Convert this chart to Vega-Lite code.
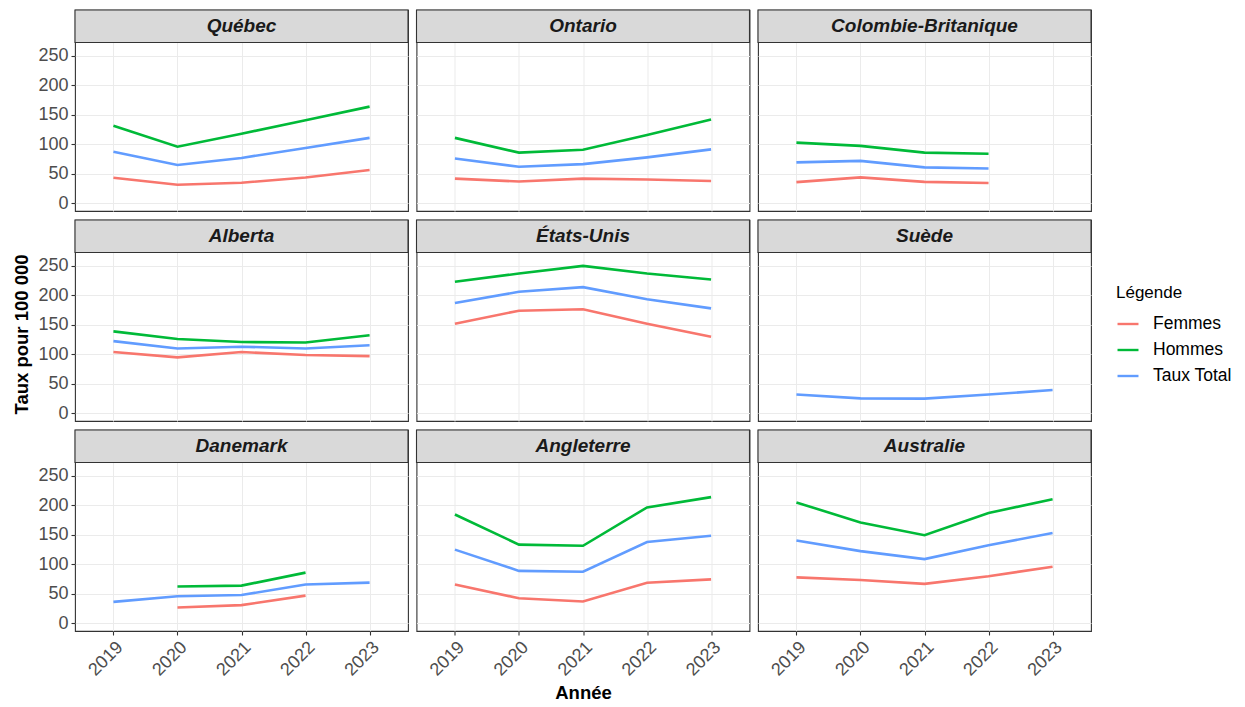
{
  "$schema": "https://vega.github.io/schema/vega-lite/v6.json",
  "padding": {"left": 12, "top": 8, "right": 5, "bottom": 5},
  "background": "white",
  "data": {"values": [
    {"region": "Québec", "annee": 2019, "serie": "Femmes", "taux": 43.5},
    {"region": "Québec", "annee": 2020, "serie": "Femmes", "taux": 31.5},
    {"region": "Québec", "annee": 2021, "serie": "Femmes", "taux": 35},
    {"region": "Québec", "annee": 2022, "serie": "Femmes", "taux": 44},
    {"region": "Québec", "annee": 2023, "serie": "Femmes", "taux": 56.5},
    {"region": "Québec", "annee": 2019, "serie": "Hommes", "taux": 131.5},
    {"region": "Québec", "annee": 2020, "serie": "Hommes", "taux": 96},
    {"region": "Québec", "annee": 2021, "serie": "Hommes", "taux": 118},
    {"region": "Québec", "annee": 2022, "serie": "Hommes", "taux": 141},
    {"region": "Québec", "annee": 2023, "serie": "Hommes", "taux": 164},
    {"region": "Québec", "annee": 2019, "serie": "Taux Total", "taux": 87.5},
    {"region": "Québec", "annee": 2020, "serie": "Taux Total", "taux": 65},
    {"region": "Québec", "annee": 2021, "serie": "Taux Total", "taux": 77},
    {"region": "Québec", "annee": 2022, "serie": "Taux Total", "taux": 94},
    {"region": "Québec", "annee": 2023, "serie": "Taux Total", "taux": 111},
    {"region": "Ontario", "annee": 2019, "serie": "Femmes", "taux": 42},
    {"region": "Ontario", "annee": 2020, "serie": "Femmes", "taux": 37},
    {"region": "Ontario", "annee": 2021, "serie": "Femmes", "taux": 42},
    {"region": "Ontario", "annee": 2022, "serie": "Femmes", "taux": 40.5},
    {"region": "Ontario", "annee": 2023, "serie": "Femmes", "taux": 38},
    {"region": "Ontario", "annee": 2019, "serie": "Hommes", "taux": 111},
    {"region": "Ontario", "annee": 2020, "serie": "Hommes", "taux": 86},
    {"region": "Ontario", "annee": 2021, "serie": "Hommes", "taux": 91},
    {"region": "Ontario", "annee": 2022, "serie": "Hommes", "taux": 116},
    {"region": "Ontario", "annee": 2023, "serie": "Hommes", "taux": 142},
    {"region": "Ontario", "annee": 2019, "serie": "Taux Total", "taux": 76},
    {"region": "Ontario", "annee": 2020, "serie": "Taux Total", "taux": 62},
    {"region": "Ontario", "annee": 2021, "serie": "Taux Total", "taux": 66.5},
    {"region": "Ontario", "annee": 2022, "serie": "Taux Total", "taux": 78},
    {"region": "Ontario", "annee": 2023, "serie": "Taux Total", "taux": 91.5},
    {"region": "Colombie-Britanique", "annee": 2019, "serie": "Femmes", "taux": 36},
    {"region": "Colombie-Britanique", "annee": 2020, "serie": "Femmes", "taux": 44},
    {"region": "Colombie-Britanique", "annee": 2021, "serie": "Femmes", "taux": 36.5},
    {"region": "Colombie-Britanique", "annee": 2022, "serie": "Femmes", "taux": 34.5},
    {"region": "Colombie-Britanique", "annee": 2019, "serie": "Hommes", "taux": 103},
    {"region": "Colombie-Britanique", "annee": 2020, "serie": "Hommes", "taux": 97.5},
    {"region": "Colombie-Britanique", "annee": 2021, "serie": "Hommes", "taux": 86},
    {"region": "Colombie-Britanique", "annee": 2022, "serie": "Hommes", "taux": 84},
    {"region": "Colombie-Britanique", "annee": 2019, "serie": "Taux Total", "taux": 69.5},
    {"region": "Colombie-Britanique", "annee": 2020, "serie": "Taux Total", "taux": 72},
    {"region": "Colombie-Britanique", "annee": 2021, "serie": "Taux Total", "taux": 61},
    {"region": "Colombie-Britanique", "annee": 2022, "serie": "Taux Total", "taux": 59},
    {"region": "Alberta", "annee": 2019, "serie": "Femmes", "taux": 104},
    {"region": "Alberta", "annee": 2020, "serie": "Femmes", "taux": 95},
    {"region": "Alberta", "annee": 2021, "serie": "Femmes", "taux": 104},
    {"region": "Alberta", "annee": 2022, "serie": "Femmes", "taux": 99},
    {"region": "Alberta", "annee": 2023, "serie": "Femmes", "taux": 97},
    {"region": "Alberta", "annee": 2019, "serie": "Hommes", "taux": 139},
    {"region": "Alberta", "annee": 2020, "serie": "Hommes", "taux": 126},
    {"region": "Alberta", "annee": 2021, "serie": "Hommes", "taux": 121},
    {"region": "Alberta", "annee": 2022, "serie": "Hommes", "taux": 120},
    {"region": "Alberta", "annee": 2023, "serie": "Hommes", "taux": 132.5},
    {"region": "Alberta", "annee": 2019, "serie": "Taux Total", "taux": 122.5},
    {"region": "Alberta", "annee": 2020, "serie": "Taux Total", "taux": 110},
    {"region": "Alberta", "annee": 2021, "serie": "Taux Total", "taux": 113},
    {"region": "Alberta", "annee": 2022, "serie": "Taux Total", "taux": 110},
    {"region": "Alberta", "annee": 2023, "serie": "Taux Total", "taux": 115.5},
    {"region": "États-Unis", "annee": 2019, "serie": "Femmes", "taux": 152},
    {"region": "États-Unis", "annee": 2020, "serie": "Femmes", "taux": 174},
    {"region": "États-Unis", "annee": 2021, "serie": "Femmes", "taux": 176.5},
    {"region": "États-Unis", "annee": 2022, "serie": "Femmes", "taux": 152},
    {"region": "États-Unis", "annee": 2023, "serie": "Femmes", "taux": 130},
    {"region": "États-Unis", "annee": 2019, "serie": "Hommes", "taux": 223},
    {"region": "États-Unis", "annee": 2020, "serie": "Hommes", "taux": 237},
    {"region": "États-Unis", "annee": 2021, "serie": "Hommes", "taux": 250},
    {"region": "États-Unis", "annee": 2022, "serie": "Hommes", "taux": 237},
    {"region": "États-Unis", "annee": 2023, "serie": "Hommes", "taux": 227},
    {"region": "États-Unis", "annee": 2019, "serie": "Taux Total", "taux": 187},
    {"region": "États-Unis", "annee": 2020, "serie": "Taux Total", "taux": 206},
    {"region": "États-Unis", "annee": 2021, "serie": "Taux Total", "taux": 214},
    {"region": "États-Unis", "annee": 2022, "serie": "Taux Total", "taux": 193.5},
    {"region": "États-Unis", "annee": 2023, "serie": "Taux Total", "taux": 178},
    {"region": "Suède", "annee": 2019, "serie": "Taux Total", "taux": 32},
    {"region": "Suède", "annee": 2020, "serie": "Taux Total", "taux": 25.5},
    {"region": "Suède", "annee": 2021, "serie": "Taux Total", "taux": 25},
    {"region": "Suède", "annee": 2022, "serie": "Taux Total", "taux": 32},
    {"region": "Suède", "annee": 2023, "serie": "Taux Total", "taux": 39.5},
    {"region": "Danemark", "annee": 2020, "serie": "Femmes", "taux": 27},
    {"region": "Danemark", "annee": 2021, "serie": "Femmes", "taux": 31},
    {"region": "Danemark", "annee": 2022, "serie": "Femmes", "taux": 47},
    {"region": "Danemark", "annee": 2020, "serie": "Hommes", "taux": 62.5},
    {"region": "Danemark", "annee": 2021, "serie": "Hommes", "taux": 64},
    {"region": "Danemark", "annee": 2022, "serie": "Hommes", "taux": 86},
    {"region": "Danemark", "annee": 2019, "serie": "Taux Total", "taux": 36.5},
    {"region": "Danemark", "annee": 2020, "serie": "Taux Total", "taux": 46},
    {"region": "Danemark", "annee": 2021, "serie": "Taux Total", "taux": 48},
    {"region": "Danemark", "annee": 2022, "serie": "Taux Total", "taux": 66},
    {"region": "Danemark", "annee": 2023, "serie": "Taux Total", "taux": 69},
    {"region": "Angleterre", "annee": 2019, "serie": "Femmes", "taux": 66},
    {"region": "Angleterre", "annee": 2020, "serie": "Femmes", "taux": 42.5},
    {"region": "Angleterre", "annee": 2021, "serie": "Femmes", "taux": 37},
    {"region": "Angleterre", "annee": 2022, "serie": "Femmes", "taux": 69},
    {"region": "Angleterre", "annee": 2023, "serie": "Femmes", "taux": 74.5},
    {"region": "Angleterre", "annee": 2019, "serie": "Hommes", "taux": 184.5},
    {"region": "Angleterre", "annee": 2020, "serie": "Hommes", "taux": 133.5},
    {"region": "Angleterre", "annee": 2021, "serie": "Hommes", "taux": 131.5},
    {"region": "Angleterre", "annee": 2022, "serie": "Hommes", "taux": 196.5},
    {"region": "Angleterre", "annee": 2023, "serie": "Hommes", "taux": 214},
    {"region": "Angleterre", "annee": 2019, "serie": "Taux Total", "taux": 125},
    {"region": "Angleterre", "annee": 2020, "serie": "Taux Total", "taux": 89},
    {"region": "Angleterre", "annee": 2021, "serie": "Taux Total", "taux": 87.5},
    {"region": "Angleterre", "annee": 2022, "serie": "Taux Total", "taux": 138},
    {"region": "Angleterre", "annee": 2023, "serie": "Taux Total", "taux": 148.5},
    {"region": "Australie", "annee": 2019, "serie": "Femmes", "taux": 78},
    {"region": "Australie", "annee": 2020, "serie": "Femmes", "taux": 73.5},
    {"region": "Australie", "annee": 2021, "serie": "Femmes", "taux": 67},
    {"region": "Australie", "annee": 2022, "serie": "Femmes", "taux": 80},
    {"region": "Australie", "annee": 2023, "serie": "Femmes", "taux": 96},
    {"region": "Australie", "annee": 2019, "serie": "Hommes", "taux": 205},
    {"region": "Australie", "annee": 2020, "serie": "Hommes", "taux": 171},
    {"region": "Australie", "annee": 2021, "serie": "Hommes", "taux": 149.5},
    {"region": "Australie", "annee": 2022, "serie": "Hommes", "taux": 187},
    {"region": "Australie", "annee": 2023, "serie": "Hommes", "taux": 210.5},
    {"region": "Australie", "annee": 2019, "serie": "Taux Total", "taux": 140.5},
    {"region": "Australie", "annee": 2020, "serie": "Taux Total", "taux": 122.5},
    {"region": "Australie", "annee": 2021, "serie": "Taux Total", "taux": 109},
    {"region": "Australie", "annee": 2022, "serie": "Taux Total", "taux": 132.5},
    {"region": "Australie", "annee": 2023, "serie": "Taux Total", "taux": 153}
  ]},
  "columns": 3,
  "spacing": {"row": 9, "column": 8.5},
  "bounds": "flush",
  "concat": [
    {
      "width": 333, "height": 201,
      "transform": [{"filter": "datum.region === 'Québec'"}],
      "layer": [
        {"mark": {"type": "line", "strokeWidth": 2.6}, "encoding": {
          "x": {"field": "annee", "type": "ordinal", "scale": {"type": "point", "domain": [2019, 2020, 2021, 2022, 2023], "padding": 0.6}, "axis": {"labels": false, "ticks": false, "title": null}},
          "y": {"field": "taux", "type": "quantitative", "scale": {"domain": [-12.9, 327.7], "nice": false, "zero": false}, "axis": {"values": [0, 25, 50, 75, 100, 125, 150, 175, 200, 225, 250], "labelExpr": "datum.value % 50 === 0 ? datum.label : ''", "tickOpacity": {"condition": {"test": "datum.value % 50 !== 0", "value": 0}, "value": 1}, "gridWidth": {"condition": {"test": "datum.value % 50 !== 0", "value": 0.55}, "value": 1.1}, "title": null}},
          "color": {"field": "serie", "type": "nominal", "scale": {"domain": ["Femmes", "Hommes", "Taux Total"], "range": ["#F8766D", "#00BA38", "#619CFF"]}, "legend": {"title": "Légende", "orient": "none", "legendX": 1041, "legendY": 275}}
        }},
        {"transform": [{"aggregate": [{"op": "count", "as": "n"}], "groupby": ["region"]}], "mark": {"type": "rect", "fill": "#D9D9D9", "stroke": "#333333", "strokeWidth": 1.1}, "encoding": {"y": {"datum": 272.7, "type": "quantitative"}, "y2": {"datum": 327.7}}},
        {"transform": [{"aggregate": [{"op": "count", "as": "n"}], "groupby": ["region"]}], "mark": {"type": "text", "fontSize": 19, "fontWeight": "bold", "fontStyle": "italic", "color": "#1A1A1A", "baseline": "middle"}, "encoding": {"y": {"datum": 300.2, "type": "quantitative"}, "text": {"field": "region"}}}
      ]
    },
    {
      "width": 333, "height": 201,
      "transform": [{"filter": "datum.region === 'Ontario'"}],
      "layer": [
        {"mark": {"type": "line", "strokeWidth": 2.6}, "encoding": {
          "x": {"field": "annee", "type": "ordinal", "scale": {"type": "point", "domain": [2019, 2020, 2021, 2022, 2023], "padding": 0.6}, "axis": {"labels": false, "ticks": false, "title": null}},
          "y": {"field": "taux", "type": "quantitative", "scale": {"domain": [-12.9, 327.7], "nice": false, "zero": false}, "axis": {"values": [0, 25, 50, 75, 100, 125, 150, 175, 200, 225, 250], "labels": false, "ticks": false, "gridWidth": {"condition": {"test": "datum.value % 50 !== 0", "value": 0.55}, "value": 1.1}, "title": null}},
          "color": {"field": "serie", "type": "nominal"}
        }},
        {"transform": [{"aggregate": [{"op": "count", "as": "n"}], "groupby": ["region"]}], "mark": {"type": "rect", "fill": "#D9D9D9", "stroke": "#333333", "strokeWidth": 1.1}, "encoding": {"y": {"datum": 272.7, "type": "quantitative"}, "y2": {"datum": 327.7}}},
        {"transform": [{"aggregate": [{"op": "count", "as": "n"}], "groupby": ["region"]}], "mark": {"type": "text", "fontSize": 19, "fontWeight": "bold", "fontStyle": "italic", "color": "#1A1A1A", "baseline": "middle"}, "encoding": {"y": {"datum": 300.2, "type": "quantitative"}, "text": {"field": "region"}}}
      ]
    },
    {
      "width": 333, "height": 201,
      "transform": [{"filter": "datum.region === 'Colombie-Britanique'"}],
      "layer": [
        {"mark": {"type": "line", "strokeWidth": 2.6}, "encoding": {
          "x": {"field": "annee", "type": "ordinal", "scale": {"type": "point", "domain": [2019, 2020, 2021, 2022, 2023], "padding": 0.6}, "axis": {"labels": false, "ticks": false, "title": null}},
          "y": {"field": "taux", "type": "quantitative", "scale": {"domain": [-12.9, 327.7], "nice": false, "zero": false}, "axis": {"values": [0, 25, 50, 75, 100, 125, 150, 175, 200, 225, 250], "labels": false, "ticks": false, "gridWidth": {"condition": {"test": "datum.value % 50 !== 0", "value": 0.55}, "value": 1.1}, "title": null}},
          "color": {"field": "serie", "type": "nominal"}
        }},
        {"transform": [{"aggregate": [{"op": "count", "as": "n"}], "groupby": ["region"]}], "mark": {"type": "rect", "fill": "#D9D9D9", "stroke": "#333333", "strokeWidth": 1.1}, "encoding": {"y": {"datum": 272.7, "type": "quantitative"}, "y2": {"datum": 327.7}}},
        {"transform": [{"aggregate": [{"op": "count", "as": "n"}], "groupby": ["region"]}], "mark": {"type": "text", "fontSize": 19, "fontWeight": "bold", "fontStyle": "italic", "color": "#1A1A1A", "baseline": "middle"}, "encoding": {"y": {"datum": 300.2, "type": "quantitative"}, "text": {"field": "region"}}}
      ]
    },
    {
      "width": 333, "height": 201,
      "transform": [{"filter": "datum.region === 'Alberta'"}],
      "layer": [
        {"mark": {"type": "line", "strokeWidth": 2.6}, "encoding": {
          "x": {"field": "annee", "type": "ordinal", "scale": {"type": "point", "domain": [2019, 2020, 2021, 2022, 2023], "padding": 0.6}, "axis": {"labels": false, "ticks": false, "title": null}},
          "y": {"field": "taux", "type": "quantitative", "scale": {"domain": [-12.9, 327.7], "nice": false, "zero": false}, "axis": {"values": [0, 25, 50, 75, 100, 125, 150, 175, 200, 225, 250], "labelExpr": "datum.value % 50 === 0 ? datum.label : ''", "tickOpacity": {"condition": {"test": "datum.value % 50 !== 0", "value": 0}, "value": 1}, "gridWidth": {"condition": {"test": "datum.value % 50 !== 0", "value": 0.55}, "value": 1.1}, "title": "Taux pour 100 000", "titleY": 114, "titlePadding": 6}},
          "color": {"field": "serie", "type": "nominal"}
        }},
        {"transform": [{"aggregate": [{"op": "count", "as": "n"}], "groupby": ["region"]}], "mark": {"type": "rect", "fill": "#D9D9D9", "stroke": "#333333", "strokeWidth": 1.1}, "encoding": {"y": {"datum": 272.7, "type": "quantitative"}, "y2": {"datum": 327.7}}},
        {"transform": [{"aggregate": [{"op": "count", "as": "n"}], "groupby": ["region"]}], "mark": {"type": "text", "fontSize": 19, "fontWeight": "bold", "fontStyle": "italic", "color": "#1A1A1A", "baseline": "middle"}, "encoding": {"y": {"datum": 300.2, "type": "quantitative"}, "text": {"field": "region"}}}
      ]
    },
    {
      "width": 333, "height": 201,
      "transform": [{"filter": "datum.region === 'États-Unis'"}],
      "layer": [
        {"mark": {"type": "line", "strokeWidth": 2.6}, "encoding": {
          "x": {"field": "annee", "type": "ordinal", "scale": {"type": "point", "domain": [2019, 2020, 2021, 2022, 2023], "padding": 0.6}, "axis": {"labels": false, "ticks": false, "title": null}},
          "y": {"field": "taux", "type": "quantitative", "scale": {"domain": [-12.9, 327.7], "nice": false, "zero": false}, "axis": {"values": [0, 25, 50, 75, 100, 125, 150, 175, 200, 225, 250], "labels": false, "ticks": false, "gridWidth": {"condition": {"test": "datum.value % 50 !== 0", "value": 0.55}, "value": 1.1}, "title": null}},
          "color": {"field": "serie", "type": "nominal"}
        }},
        {"transform": [{"aggregate": [{"op": "count", "as": "n"}], "groupby": ["region"]}], "mark": {"type": "rect", "fill": "#D9D9D9", "stroke": "#333333", "strokeWidth": 1.1}, "encoding": {"y": {"datum": 272.7, "type": "quantitative"}, "y2": {"datum": 327.7}}},
        {"transform": [{"aggregate": [{"op": "count", "as": "n"}], "groupby": ["region"]}], "mark": {"type": "text", "fontSize": 19, "fontWeight": "bold", "fontStyle": "italic", "color": "#1A1A1A", "baseline": "middle"}, "encoding": {"y": {"datum": 300.2, "type": "quantitative"}, "text": {"field": "region"}}}
      ]
    },
    {
      "width": 333, "height": 201,
      "transform": [{"filter": "datum.region === 'Suède'"}],
      "layer": [
        {"mark": {"type": "line", "strokeWidth": 2.6}, "encoding": {
          "x": {"field": "annee", "type": "ordinal", "scale": {"type": "point", "domain": [2019, 2020, 2021, 2022, 2023], "padding": 0.6}, "axis": {"labels": false, "ticks": false, "title": null}},
          "y": {"field": "taux", "type": "quantitative", "scale": {"domain": [-12.9, 327.7], "nice": false, "zero": false}, "axis": {"values": [0, 25, 50, 75, 100, 125, 150, 175, 200, 225, 250], "labels": false, "ticks": false, "gridWidth": {"condition": {"test": "datum.value % 50 !== 0", "value": 0.55}, "value": 1.1}, "title": null}},
          "color": {"field": "serie", "type": "nominal"}
        }},
        {"transform": [{"aggregate": [{"op": "count", "as": "n"}], "groupby": ["region"]}], "mark": {"type": "rect", "fill": "#D9D9D9", "stroke": "#333333", "strokeWidth": 1.1}, "encoding": {"y": {"datum": 272.7, "type": "quantitative"}, "y2": {"datum": 327.7}}},
        {"transform": [{"aggregate": [{"op": "count", "as": "n"}], "groupby": ["region"]}], "mark": {"type": "text", "fontSize": 19, "fontWeight": "bold", "fontStyle": "italic", "color": "#1A1A1A", "baseline": "middle"}, "encoding": {"y": {"datum": 300.2, "type": "quantitative"}, "text": {"field": "region"}}}
      ]
    },
    {
      "width": 333, "height": 201,
      "transform": [{"filter": "datum.region === 'Danemark'"}],
      "layer": [
        {"mark": {"type": "line", "strokeWidth": 2.6}, "encoding": {
          "x": {"field": "annee", "type": "ordinal", "scale": {"type": "point", "domain": [2019, 2020, 2021, 2022, 2023], "padding": 0.6}, "axis": {"labelAngle": -45, "labelAlign": "right", "labelBaseline": "top", "title": null}},
          "y": {"field": "taux", "type": "quantitative", "scale": {"domain": [-12.9, 327.7], "nice": false, "zero": false}, "axis": {"values": [0, 25, 50, 75, 100, 125, 150, 175, 200, 225, 250], "labelExpr": "datum.value % 50 === 0 ? datum.label : ''", "tickOpacity": {"condition": {"test": "datum.value % 50 !== 0", "value": 0}, "value": 1}, "gridWidth": {"condition": {"test": "datum.value % 50 !== 0", "value": 0.55}, "value": 1.1}, "title": null}},
          "color": {"field": "serie", "type": "nominal"}
        }},
        {"transform": [{"aggregate": [{"op": "count", "as": "n"}], "groupby": ["region"]}], "mark": {"type": "rect", "fill": "#D9D9D9", "stroke": "#333333", "strokeWidth": 1.1}, "encoding": {"y": {"datum": 272.7, "type": "quantitative"}, "y2": {"datum": 327.7}}},
        {"transform": [{"aggregate": [{"op": "count", "as": "n"}], "groupby": ["region"]}], "mark": {"type": "text", "fontSize": 19, "fontWeight": "bold", "fontStyle": "italic", "color": "#1A1A1A", "baseline": "middle"}, "encoding": {"y": {"datum": 300.2, "type": "quantitative"}, "text": {"field": "region"}}}
      ]
    },
    {
      "width": 333, "height": 201,
      "transform": [{"filter": "datum.region === 'Angleterre'"}],
      "layer": [
        {"mark": {"type": "line", "strokeWidth": 2.6}, "encoding": {
          "x": {"field": "annee", "type": "ordinal", "scale": {"type": "point", "domain": [2019, 2020, 2021, 2022, 2023], "padding": 0.6}, "axis": {"labelAngle": -45, "labelAlign": "right", "labelBaseline": "top", "title": "Année", "titlePadding": 4}},
          "y": {"field": "taux", "type": "quantitative", "scale": {"domain": [-12.9, 327.7], "nice": false, "zero": false}, "axis": {"values": [0, 25, 50, 75, 100, 125, 150, 175, 200, 225, 250], "labels": false, "ticks": false, "gridWidth": {"condition": {"test": "datum.value % 50 !== 0", "value": 0.55}, "value": 1.1}, "title": null}},
          "color": {"field": "serie", "type": "nominal"}
        }},
        {"transform": [{"aggregate": [{"op": "count", "as": "n"}], "groupby": ["region"]}], "mark": {"type": "rect", "fill": "#D9D9D9", "stroke": "#333333", "strokeWidth": 1.1}, "encoding": {"y": {"datum": 272.7, "type": "quantitative"}, "y2": {"datum": 327.7}}},
        {"transform": [{"aggregate": [{"op": "count", "as": "n"}], "groupby": ["region"]}], "mark": {"type": "text", "fontSize": 19, "fontWeight": "bold", "fontStyle": "italic", "color": "#1A1A1A", "baseline": "middle"}, "encoding": {"y": {"datum": 300.2, "type": "quantitative"}, "text": {"field": "region"}}}
      ]
    },
    {
      "width": 333, "height": 201,
      "transform": [{"filter": "datum.region === 'Australie'"}],
      "layer": [
        {"mark": {"type": "line", "strokeWidth": 2.6}, "encoding": {
          "x": {"field": "annee", "type": "ordinal", "scale": {"type": "point", "domain": [2019, 2020, 2021, 2022, 2023], "padding": 0.6}, "axis": {"labelAngle": -45, "labelAlign": "right", "labelBaseline": "top", "title": null}},
          "y": {"field": "taux", "type": "quantitative", "scale": {"domain": [-12.9, 327.7], "nice": false, "zero": false}, "axis": {"values": [0, 25, 50, 75, 100, 125, 150, 175, 200, 225, 250], "labels": false, "ticks": false, "gridWidth": {"condition": {"test": "datum.value % 50 !== 0", "value": 0.55}, "value": 1.1}, "title": null}},
          "color": {"field": "serie", "type": "nominal"}
        }},
        {"transform": [{"aggregate": [{"op": "count", "as": "n"}], "groupby": ["region"]}], "mark": {"type": "rect", "fill": "#D9D9D9", "stroke": "#333333", "strokeWidth": 1.1}, "encoding": {"y": {"datum": 272.7, "type": "quantitative"}, "y2": {"datum": 327.7}}},
        {"transform": [{"aggregate": [{"op": "count", "as": "n"}], "groupby": ["region"]}], "mark": {"type": "text", "fontSize": 19, "fontWeight": "bold", "fontStyle": "italic", "color": "#1A1A1A", "baseline": "middle"}, "encoding": {"y": {"datum": 300.2, "type": "quantitative"}, "text": {"field": "region"}}}
      ]
    }
  ],
  "config": {
    "font": "Liberation Sans",
    "view": {"stroke": "#333333", "strokeWidth": 1.1},
    "axis": {"domain": false, "grid": true, "gridColor": "#EBEBEB", "tickColor": "#333333", "tickSize": 4, "tickWidth": 1.1, "labelColor": "#4D4D4D", "labelFontSize": 18, "labelPadding": 3, "titleColor": "#000000", "titleFontSize": 18.5, "titleFontWeight": "bold"},
    "legend": {"titleFontSize": 17, "titleFontWeight": "normal", "titleColor": "#000000", "labelFontSize": 17.5, "labelColor": "#000000", "symbolType": "stroke", "symbolSize": 440, "symbolStrokeWidth": 2.4, "rowPadding": 5, "titlePadding": 10, "labelOffset": 13}
  }
}
